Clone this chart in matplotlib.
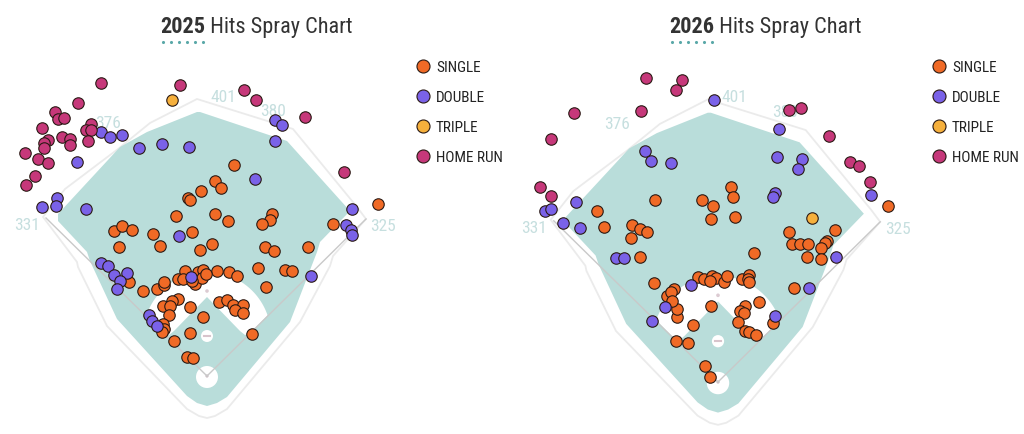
import numpy as np
import matplotlib
matplotlib.use("Agg")
import matplotlib.pyplot as plt
from matplotlib.patches import Polygon, Circle
from matplotlib import font_manager as fm

# --- pick a narrow font if one is installed ---
names = {f.name for f in fm.fontManager.ttflist}
FONT = "Roboto"
for n in ["Roboto Condensed", "Liberation Sans Narrow", "Open Sans Condensed"]:
    if n in names:
        FONT = n
        break
NARROW = FONT != "Roboto"

# Hit locations (hc_x, hc_y style coords, y grows downward), one set per season
# 2025 season, home plate at (207, 377)
single_2025 = [(234,166),(215,182),(221,189),(201,192),(188,199),(190,201),(176,217),(215,215),
               (228,222),(272,215),(270,221),(262,225),(333,225),(378,205),(114,232),(122,227),
               (132,231),(153,235),(192,233),(119,248),(160,247),(200,251),(212,245),(265,248),
               (274,252),(308,248),(129,283),(143,292),(157,290),(164,286),(164,283),(178,280),
               (185,272),(183,280),(195,285),(198,273),(203,271),(202,279),(217,272),(229,273),
               (237,277),(258,269),(285,271),(292,272),(266,288),(178,300),(172,302),(163,307),
               (170,307),(169,316),(163,325),(164,330),(162,333),(190,308),(203,318),(190,334),
               (174,342),(187,358),(193,359),(219,303),(227,301),(233,306),(243,306),(235,311),
               (243,314),(252,335),(206,275),(192,282)]
double_2025 = [(101,133),(110,138),(122,136),(139,149),(162,145),(189,148),(77,163),(57,199),
               (56,207),(42,208),(86,210),(275,121),(282,126),(275,142),(255,180),(352,210),
               (346,226),(351,231),(352,236),(311,277),(179,237),(101,264),(108,267),(114,276),
               (127,274),(120,282),(117,290),(191,278),(149,316),(152,322),(157,327)]
triple_2025 = [(172,101)]
homerun_2025 = [(101,84),(180,86),(78,104),(55,113),(58,120),(64,119),(42,129),(91,125),(86,131),
                (91,131),(62,138),(70,140),(70,146),(88,142),(48,141),(44,144),(44,149),(25,154),
                (38,160),(48,164),(35,177),(26,186),(244,91),(256,101),(305,118),(344,173)]

# 2026 season, home plate at (207, 383), chart drawn 2% larger
single_2026 = [(220,188),(222,198),(144,201),(191,201),(202,207),(86,212),(200,220),(224,218),
               (93,228),(121,226),(129,230),(136,233),(120,239),(129,258),(243,254),(278,233),
               (324,231),(281,245),(289,245),(297,245),(316,242),(314,244),(310,249),(296,258),
               (310,260),(283,289),(143,284),(163,290),(156,297),(187,278),(193,280),(201,277),
               (205,279),(213,283),(216,277),(199,282),(231,280),(238,276),(237,280),(238,283),
               (200,307),(248,303),(234,307),(229,312),(233,314),(227,323),(234,332),(238,333),
               (245,336),(262,324),(182,326),(166,318),(166,310),(165,342),(177,344),(194,367),
               (199,378),(377,207),(160,293),(161,302)]
double_2026 = [(203,101),(268,130),(134,152),(140,162),(160,164),(266,158),(291,160),(287,170),
               (264,194),(262,198),(360,196),(65,203),(34,212),(40,210),(52,224),(69,229),
               (105,259),(113,259),(325,258),(298,289),(180,286),(154,308),(141,322),(264,317)]
triple_2026 = [(301,219)]
homerun_2026 = [(135,79),(171,81),(165,91),(63,114),(130,112),(40,140),(278,111),(290,109),
                (318,137),(339,163),(348,167),(359,183),(29,188),(40,197)]

hit_types = ["SINGLE", "DOUBLE", "TRIPLE", "HOME RUN"]
hit_colors = ["#F06A26", "#7A62E8", "#F6B03C", "#C6387A"]

# ballpark outline (field units, home plate at 0,0, y up)
wall = [(-164,159),(-142,187),(-89,227),(-57,253),(-10,277),(86,247),(150,169),(159,157),
        (126,120),(123,110),(93,54),(20,-33),(8,-40),(0,-42),(-8,-40),(-20,-33),(-100,50),
        (-129,109),(-130,114)]
grass = [(-10,264),(-60,244),(-87,229),(-149,162),(-149,155),(-120,124),(-117,115),(-90,57),
         (-20,-20),(-10,-27),(0,-30),(10,-27),(20,-21),(83,54),(110,124),(113,134),(143,165),
         (80,235),(-7,264)]
fence_labels = ["401", "376", "380", "331", "325"]
fence_label_pos = [(16,280),(-99,253),(66,265),(-180,151),(176,150)]

W, H = 1024, 435
TEAL = "#B9DDDA"

fig = plt.figure(figsize=(W/100, H/100), dpi=100)
overlay = fig.add_axes([0, 0, 1, 1])
overlay.set_xlim(0, W)
overlay.set_ylim(H, 0)
overlay.axis("off")


def draw_field(ax):
    ax.add_patch(Polygon(wall, closed=True, fc="white", ec="#ebebeb", lw=1.3, zorder=1))
    ax.add_patch(Polygon(grass, closed=True, fc=TEAL, ec="none", zorder=2))
    # infield dirt: band between the arc round the mound and the infield grass
    c = np.array([0, 40]); r = 64
    t = np.linspace(np.radians(18.3), np.radians(161.7), 60)
    arc = np.column_stack([c[0] + r*np.cos(t), c[1] + r*np.sin(t)])
    inner = np.array([(-61, 61), (-43, 43), (-38, 41), (-33, 45), (0, 79),
                      (33, 45), (38, 41), (43, 43), (61, 61)])
    dirt = np.vstack([arc, inner])
    ax.add_patch(Polygon(dirt, closed=True, fc="white", ec="none", zorder=3))
    ax.add_patch(Circle((0, -1), 11, fc="white", ec="none", zorder=5))
    ax.add_patch(Circle((0, 40), 6, fc="white", ec="none", zorder=5))
    ax.plot([-3, 3], [40, 40], color="#d8c4cc", lw=1.5, zorder=6)
    ax.add_patch(Circle((0, 85), 1.8, fc="#dccbd2", ec="none", zorder=6))
    ax.add_patch(Circle((0, 0), 1.6, fc="#cbb9c1", ec="none", zorder=6))
    ax.plot([0, -161], [0, 158], color="#c9c9c9", lw=1, zorder=6)
    ax.plot([0, 159], [0, 157], color="#c9c9c9", lw=1, zorder=6)
    for lab, (lx, ly) in zip(fence_labels, fence_label_pos):
        ax.text(lx, ly, lab, color="#c6dfdf", fontsize=12.5 if NARROW else 11.5,
                family=FONT, ha="center", va="center", zorder=7)


panels = [
    ("2025", 0, (207, 377), 1.00, [single_2025, double_2025, triple_2025, homerun_2025]),
    ("2026", 511, (207, 383), 1.02, [single_2026, double_2026, triple_2026, homerun_2026]),
]

for year, left, (hx, hy), scale, series in panels:
    pw = 415
    ax = fig.add_axes([left/W, 0, pw/W, 1])
    ax.set_xlim(-hx/scale, (pw - hx)/scale)
    ax.set_ylim((hy - H)/scale, hy/scale)
    ax.axis("off")
    draw_field(ax)

    for pts, col in zip(series, hit_colors):
        arr = np.array(pts, dtype=float)
        x = (arr[:, 0] - hx)/scale
        y = (hy - arr[:, 1])/scale
        ax.scatter(x, y, s=68, c=col, edgecolors="#2a1a14", linewidths=0.8,
                   zorder=10, clip_on=False)

    # title: bold year + regular text
    tx = left + (160 if year == "2025" else 158)
    t1 = overlay.text(tx, 33, year, fontsize=16 if NARROW else 14.5, fontweight="bold",
                      family=FONT, color="#333333", va="baseline", ha="left")
    overlay.annotate(" Hits Spray Chart", xy=(1, 0), xycoords=t1, va="bottom", ha="left",
                     fontsize=16 if NARROW else 14.5, family=FONT, color="#333333")
    overlay.scatter(tx + 3 + 8*np.arange(6), np.full(6, 43), s=5, c="#5aa8a8", lw=0)

    # legend
    lx = left + (423 if year == "2025" else 428)
    for i, (name, col) in enumerate(zip(hit_types, hit_colors)):
        yy = 67 + 30*i
        overlay.scatter([lx], [yy], s=88, c=col, edgecolors="#2a1a14", linewidths=0.8)
        overlay.text(lx + 13, yy + 1, name, fontsize=11 if NARROW else 9.5, family=FONT,
                     color="#222222", va="center", ha="left")

fig.savefig("out.png", dpi=100)
